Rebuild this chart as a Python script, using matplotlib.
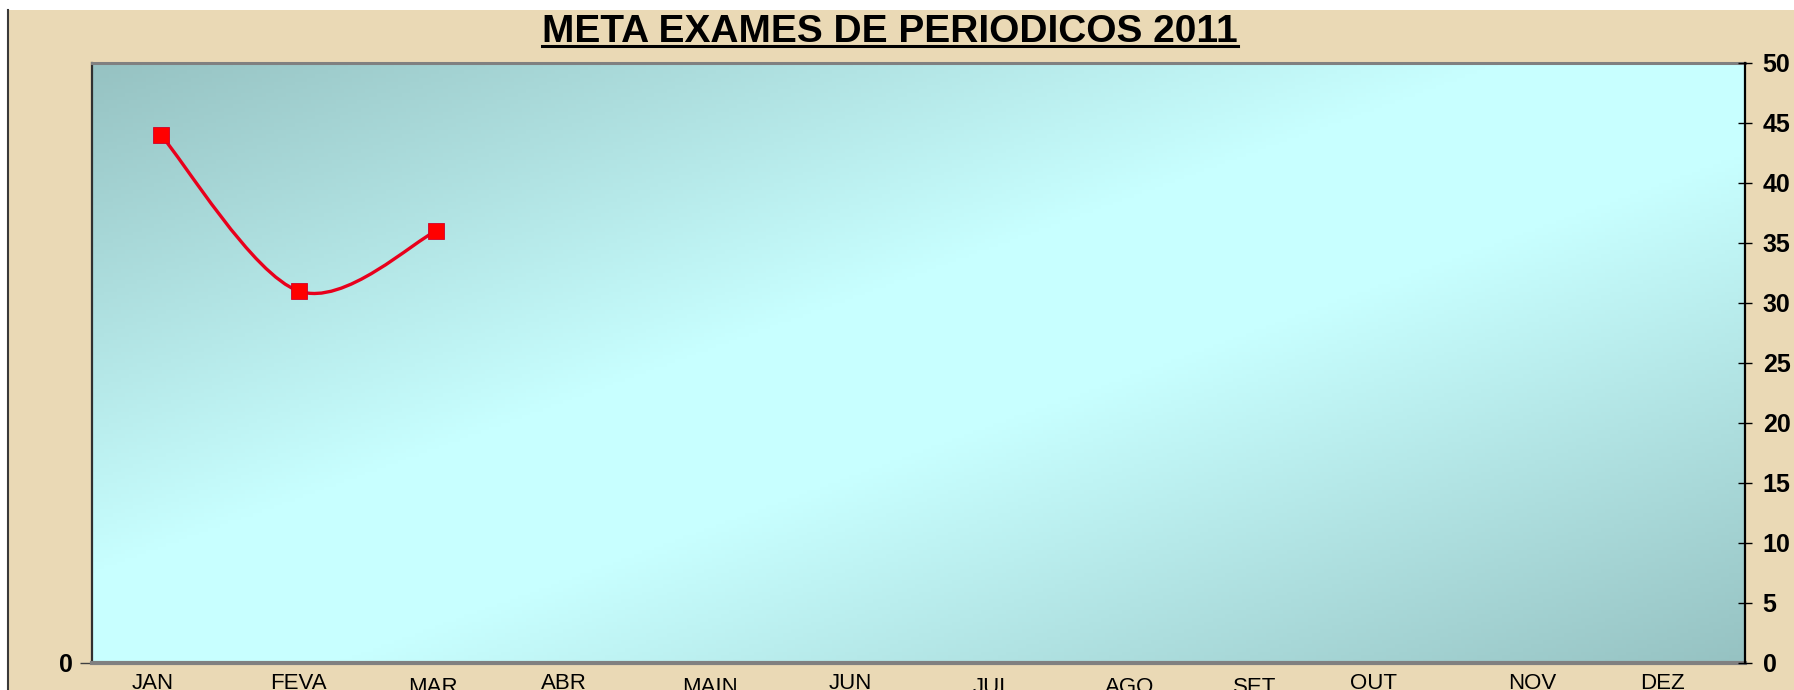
import numpy as np
import matplotlib
matplotlib.use("Agg")
import matplotlib.pyplot as plt
import matplotlib.patches as mpatches
from matplotlib.path import Path
from matplotlib.lines import Line2D
from matplotlib.transforms import ScaledTranslation

plt.rcParams['font.family'] = ['Liberation Sans', 'DejaVu Sans']

# === dados ===
meses = ["JAN", "FEVA", "MAR", "ABR", "MAIN", "JUN", "JUL", "AGO", "SET", "OUT", "NOV", "DEZ"]
valores = [44, 31, 36]          # só JAN a MAR preenchidos
ticks_dir = list(range(0, 51, 5))
titulo = "META EXAMES DE PERIODICOS 2011"

W, H = 1794, 690
fig = plt.figure(figsize=(W / 100, H / 100), dpi=100)
fig.patch.set_facecolor("white")

# --- fundo bege + borda esquerda ---
fig.add_artist(mpatches.Rectangle((9 / W, 0), 1 - 9 / W, (H - 10) / H, transform=fig.transFigure,
                                  facecolor="#EAD9B5", edgecolor="none", zorder=-10))
fig.add_artist(Line2D([8 / W, 8 / W], [0, (H - 10) / H], color="#3a3a3a", lw=1.5, zorder=-9))

# --- area do grafico ---
ax = fig.add_axes([92 / W, 27 / H, (1745 - 92) / W, 600 / H])

# gradiente diagonal (escuro nos cantos sup-esq / inf-dir)
u = np.linspace(0, 1, 400)
v = np.linspace(0, 1, 160)
U, V = np.meshgrid(u, v)
t = U + V
f = np.clip(np.minimum(t, 2 - t) / 0.85, 0, 1)
escuro = np.array([0x96, 0xC2, 0xC2]) / 255
claro = np.array([0xC8, 0xFF, 0xFF]) / 255
img = escuro + f[..., None] * (claro - escuro)
ax.imshow(img, extent=[0, 1, 0, 1], transform=ax.transAxes, aspect="auto", origin="upper", zorder=0)

ax.set_xlim(-0.5, len(meses) - 0.5)
ax.set_ylim(0, 50)

# linha suavizada (bezier tipo Catmull-Rom, como no Excel)
x = np.arange(len(valores))
P = np.column_stack([x, valores]).astype(float)
Pext = np.vstack([P[0], P, P[-1]])
verts = [P[0]]
codes = [Path.MOVETO]
for i in range(len(P) - 1):
    c1 = Pext[i + 1] + (Pext[i + 2] - Pext[i]) / 6
    c2 = Pext[i + 2] - (Pext[i + 3] - Pext[i + 1]) / 6
    verts += [c1, c2, Pext[i + 2]]
    codes += [Path.CURVE4] * 3
ax.add_patch(mpatches.PathPatch(Path(verts, codes), facecolor="none", edgecolor="#E8001C",
                                lw=2.4, zorder=3))
ax.plot(x, valores, ls="none", marker="s", ms=11.2, mfc="#FF0000", mec="#D0002A", mew=0.6, zorder=4)

# bordas
ax.spines["top"].set_color("#808080")
ax.spines["top"].set_linewidth(2.2)
ax.spines["bottom"].set_color("#808080")
ax.spines["bottom"].set_linewidth(3)
ax.spines["left"].set_color("#303030")
ax.spines["left"].set_linewidth(1.6)
ax.spines["right"].set_visible(False)

# eixo esquerdo: só o zero
ax.set_yticks([0])
ax.set_yticklabels(["0"], fontweight="bold")
ax.tick_params(axis="y", direction="out", length=9, width=1, color="#404040", pad=5, labelsize=18)

# eixo x
ax.set_xticks(np.arange(len(meses)))
ax.set_xticklabels(meses)
ax.tick_params(axis="x", length=0, pad=7, labelsize=16)
desl_x = [-8, 0, -3, -10, -2, 1, 5, 5, -8, -27, -6, -14]
desl_y = [0, 0, -4, 0, -4, 0, -4, -4, -4, 0, 0, 0]
for lab, dx, dy in zip(ax.get_xticklabels(), desl_x, desl_y):
    lab.set_transform(lab.get_transform() + ScaledTranslation(dx / 100, dy / 100, fig.dpi_scale_trans))

# eixo direito
ax_r = ax.twinx()
ax_r.set_ylim(0, 50)
ax_r.set_yticks(ticks_dir)
ax_r.set_yticklabels([str(v) for v in ticks_dir], fontweight="bold")
ax_r.tick_params(axis="y", direction="inout", length=9.4, width=1, color="black", pad=8, labelsize=18)
for s in ["top", "bottom", "left"]:
    ax_r.spines[s].set_visible(False)
ax_r.spines["right"].set_color("black")
ax_r.spines["right"].set_linewidth(1.6)

# titulo sublinhado
txt = fig.text(890 / W, 1 - 42 / H, titulo, ha="center", va="baseline", fontsize=28, fontweight="bold")
fig.canvas.draw()
bb = txt.get_window_extent()
y_sub = (H - 46) / H
fig.add_artist(Line2D([bb.x0 / W, bb.x1 / W], [y_sub, y_sub], color="black", lw=2.2))

fig.savefig("out.png", dpi=100)
